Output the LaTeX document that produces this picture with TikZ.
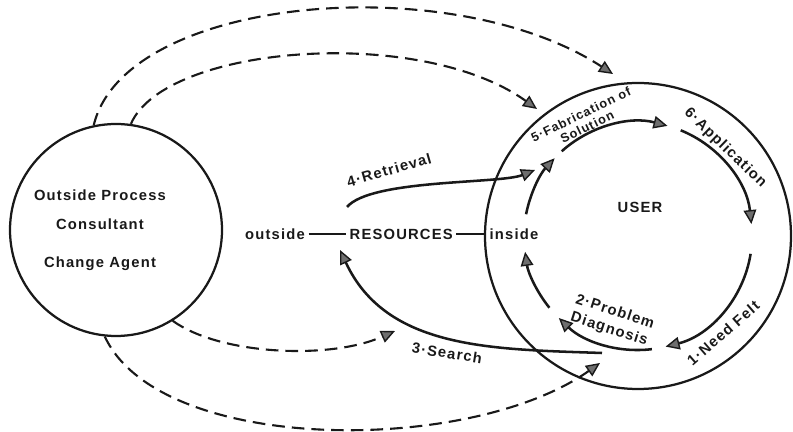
\documentclass[tikz,border=0pt]{standalone}
\usepackage{fontspec}
\setmainfont{Liberation Sans}[LetterSpace=8]
\usepackage{tikz}
\usetikzlibrary{arrows.meta, calc}
\definecolor{ink}{RGB}{25, 25, 25}
\definecolor{tipgray}{RGB}{110, 110, 110}

\tikzset{
  ring/.style={draw=ink, circle, line width=1.6pt, inner sep=0pt},
  word/.style={font=\bfseries\fontsize{10.5}{13}\selectfont, text=ink, inner sep=2.5pt},
  flow/.style={draw=ink, line width=1.8pt, -{Triangle[length=10pt, width=9pt, fill=tipgray, line width=1pt]}},
  advice/.style={draw=ink, line width=1.5pt, dash pattern=on 9pt off 5pt, -{Triangle[length=10pt, width=9pt, fill=tipgray, line width=1pt]}},
}

\begin{document}
\begin{tikzpicture}
  \useasboundingbox (0, 0) rectangle (19.825, 10.8);

  % Change agent
  \node[ring, minimum size=5.3cm] (agent) at (2.9, 5.05) {};
  \node[word, align=center] (agenttext) at (2.5, 5.04) {Outside Process\\[8pt]Consultant\\[14pt]Change Agent};

  % User system
  \node[ring, minimum size=7.65cm] (user) at (15.95, 4.9) {};
  \node[word] (usertext) at (16.0, 5.625) {USER};

  % Resources
  \node[word] (outside) at (6.875, 4.95) {outside};
  \node[word] (res) at (10.03, 4.95) {RESOURCES};
  \node[word] (inside) at (12.85, 4.95) {inside};
  \draw[ink, line width=1.2pt] (outside) -- (res);
  \draw[ink, line width=1.2pt] (res) -- (inside);

  % Problem-solving cycle inside the user
  \draw[flow] ([shift={(68:2.85)}]user.center) arc[start angle=68, end angle=6, radius=2.85];
  \draw[flow] ([shift={(-9:2.85)}]user.center) arc[start angle=-9, end angle=-76, radius=2.85];
  \draw[flow] ([shift={(-83:2.85)}]user.center) arc[start angle=-83, end angle=-134, radius=2.85];
  \draw[flow] ([shift={(-141:2.85)}]user.center) arc[start angle=-141, end angle=-172, radius=2.85];
  \draw[flow] ([shift={(169:2.85)}]user.center) arc[start angle=169, end angle=137, radius=2.85];
  \draw[flow] ([shift={(132:2.85)}]user.center) arc[start angle=132, end angle=75, radius=2.85];

  \node[word, rotate=-44] (applbl) at (18.13, 7.1) {6·Application};
  \node[word, rotate=41] (needlbl) at (18.08, 2.47) {1·Need Felt};
  \node[word, rotate=-18, align=center] (diaglbl) at (15.3, 2.78) {2·Problem\\Diagnosis};
  \node[word, rotate=26, align=center, font=\bfseries\fontsize{9}{10}\selectfont] (fablbl) at (14.6, 7.78) {5·Fabrication of\\Solution};

  % Retrieval and search
  \coordinate (retstart) at (8.675, 5.625);
  \coordinate (retend) at (13.375, 6.55);
  \draw[flow] (retstart) .. controls (9.275, 6.325) and (12.5, 6.2) .. (retend);
  \node[word, rotate=16] (retlbl) at (9.725, 6.55) {4·Retrieval};

  \coordinate (searchstart) at (15.05, 1.975);
  \coordinate (searchend) at (8.5, 4.55);
  \draw[flow] (searchstart) to[out=178, in=-65] (searchend);
  \node[word, rotate=-9] (searchlbl) at (11.175, 1.975) {3·Search};

  % Consultant help (dashed)
  \coordinate (advA) at (15.325, 8.95);
  \coordinate (advB) at (13.425, 8.075);
  \coordinate (advC) at (9.875, 2.525);
  \coordinate (advD) at (15.0, 1.725);
  \draw[advice] (agent.102) .. controls (3.125, 10.9) and (11.25, 11.6) .. (advA);
  \draw[advice] (agent.82) .. controls (4.125, 9.675) and (10.5, 10.175) .. (advB);
  \draw[advice] (agent.302) .. controls (5.5, 1.925) and (8.25, 1.8) .. (advC);
  \draw[advice] (agent.264) .. controls (4.0, -0.575) and (11.75, -0.575) .. (advD);
\end{tikzpicture}
\end{document}
